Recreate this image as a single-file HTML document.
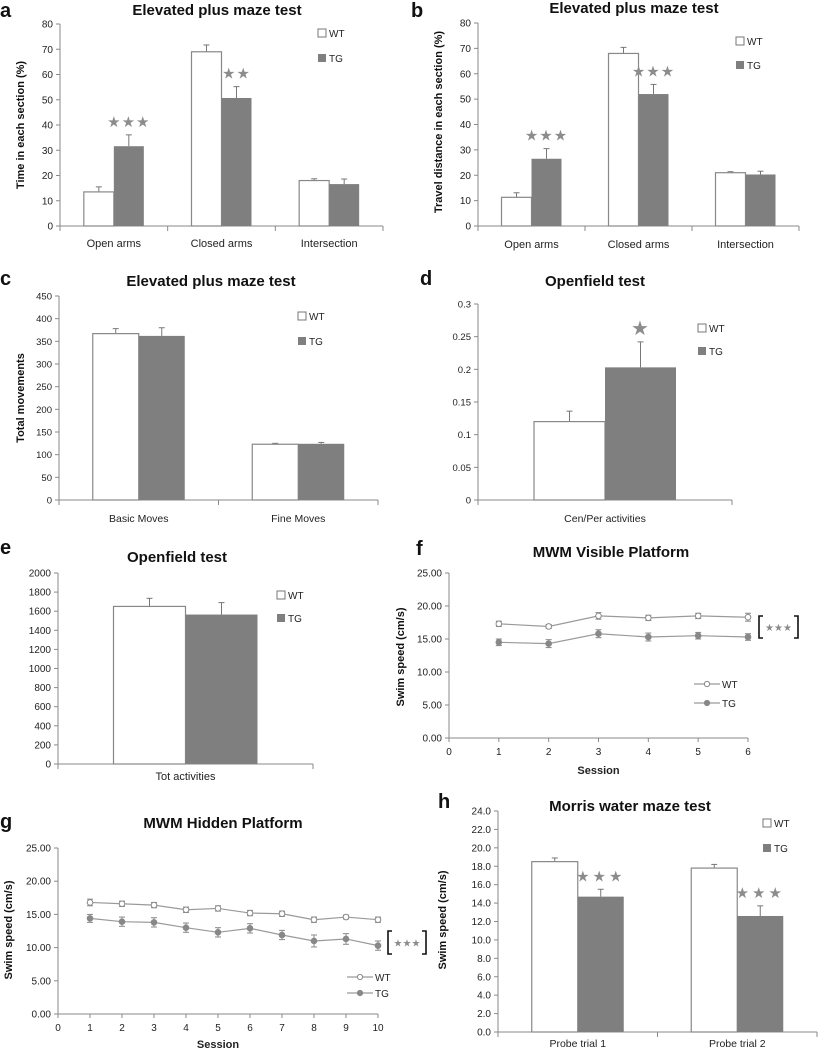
<!DOCTYPE html>
<html><head><meta charset="utf-8">
<style>
html,body{margin:0;padding:0;background:#fff;}
svg{display:block;font-family:"Liberation Sans",sans-serif;}
</style></head>
<body>
<svg id="fig" width="822" height="1049" viewBox="0 0 822 1049" xmlns="http://www.w3.org/2000/svg"></svg>
<script>
// ---- data ----
const abCats = ["Open arms","Closed arms","Intersection"];
const aWT = [13.5,69,18];
const aWTErr = [2,2.7,0.7];
const aTG = [31.6,50.7,16.6];
const aTGErr = [4.5,4.5,2];
const aStars = ["★★★","★★",""];
const abTicks = [0,10,20,30,40,50,60,70,80];

const bWT = [11.3,68,21];
const bWTErr = [1.8,2.4,0.4];
const bTG = [26.5,52,20.3];
const bTGErr = [4,3.8,1.3];
const bStars = ["★★★","★★★",""];

const cCats = ["Basic Moves","Fine Moves"];
const cWT = [367,123];
const cWTErr = [11,2];
const cTG = [362,124];
const cTGErr = [18,3];
const cTicks = [0,50,100,150,200,250,300,350,400,450];

const dCats = ["Cen/Per activities"];
const dWT = [0.12];
const dWTErr = [0.016];
const dTG = [0.203];
const dTGErr = [0.039];
const dTicks = [0,0.05,0.1,0.15,0.2,0.25,0.3];

const eCats = ["Tot activities"];
const eWT = [1650];
const eWTErr = [85];
const eTG = [1565];
const eTGErr = [125];
const eTicks = [0,200,400,600,800,1000,1200,1400,1600,1800,2000];

const fSessions = [1,2,3,4,5,6];
const fWT = [17.3,16.9,18.5,18.2,18.5,18.3];
const fWTErr = [0.4,0.3,0.5,0.4,0.4,0.6];
const fTG = [14.5,14.3,15.8,15.3,15.5,15.3];
const fTGErr = [0.5,0.6,0.6,0.6,0.5,0.5];
const swimTicks = [0,5,10,15,20,25];

const gSessions = [1,2,3,4,5,6,7,8,9,10];
const gWT = [16.8,16.6,16.4,15.7,15.9,15.2,15.1,14.2,14.6,14.2];
const gWTErr = [0.5,0.4,0.4,0.4,0.4,0.4,0.4,0.4,0.3,0.4];
const gTG = [14.4,13.9,13.8,13.0,12.3,12.9,11.9,11.0,11.3,10.3];
const gTGErr = [0.6,0.7,0.7,0.7,0.7,0.7,0.7,0.9,0.8,0.7];

const hCats = ["Probe trial 1","Probe trial 2"];
const hWT = [18.5,17.8];
const hWTErr = [0.4,0.4];
const hTG = [14.7,12.6];
const hTGErr = [0.8,1.1];
const hStars = ["★★★","★★★"];
const hTicks = [0,2,4,6,8,10,12,14,16,18,20,22,24];

// ---- helpers ----
const NS = "http://www.w3.org/2000/svg";
const svg = document.getElementById("fig");
function mk(tag, attrs, parent){
  const e = document.createElementNS(NS, tag);
  for (const k in attrs) e.setAttribute(k, attrs[k]);
  (parent||svg).appendChild(e);
  return e;
}
function txt(s, attrs, parent){ const t = mk("text", attrs, parent); t.textContent = s; return t; }
const AX = "#8a8a8a", TGF = "#7f7f7f", STAR = "#8c8c8c";

function panelText(p, g){
  const l = txt(p.letter, {x:p.lx, y:p.ly, "font-size":20, "font-weight":"bold", fill:"#111"}, g);
  
  
  const t = txt(p.title, {x:p.tx, y:p.ty, "font-size":p.tfs||15, "font-weight":"bold", "text-anchor":"middle", fill:"#111"}, g);
  
  
  if (p.ytitle){
    const yt = txt(p.ytitle, {x:0, y:0, "font-size":p.yfs||11, "font-weight":"bold", "text-anchor":"middle", fill:"#111",
      transform:`translate(${p.ytx},${p.tyc}) rotate(-90)`}, g);
    
    
  }
}
function yAxis(p, g, ticks, fmt){
  const ys = v => p.y0 - (v - 0) / p.max * (p.y0 - p.y1);
  const ax = mk("line", {x1:p.x0, y1:p.y1, x2:p.x0, y2:p.y0, stroke:AX, "stroke-width":1}, g);
  
  
  ticks.forEach(v=>{
    const y = ys(v);
    mk("line", {x1:p.x0-4, y1:y, x2:p.x0, y2:y, stroke:AX}, g);
    const t = txt(fmt(v), {x:p.x0-7, y:y+3.5, "font-size":p.tkfs||10, "text-anchor":"end", fill:"#222"}, g);
    
    
  });
  return ys;
}
function legendBars(p, g){
  const w = mk("rect", {x:p.legX, y:p.legY-8, width:8, height:8, fill:"#fff", stroke:"#777"}, g);
  
  
  const wt = txt("WT", {x:p.legX+11, y:p.legY, "font-size":10, fill:"#222"}, g);
  
  
  const t = mk("rect", {x:p.legX, y:p.legY+p.legGap-8, width:8, height:8, fill:TGF}, g);
  
  
  const tg = txt("TG", {x:p.legX+11, y:p.legY+p.legGap, "font-size":10, fill:"#222"}, g);
  
  
}
function errBar(g, x, yTop, yBase, col){
  mk("line", {x1:x, y1:yBase, x2:x, y2:yTop, stroke:col||"#777"}, g);
  mk("line", {x1:x-3, y1:yTop, x2:x+3, y2:yTop, stroke:col||"#777"}, g);
}
function barChart(p, cats, wt, wtE, tg, tgE, ticks, fmt, stars){
  const g = mk("g", {});
  
  
  panelText(p, g);
  const ys = yAxis(p, g, ticks, fmt);
  const xa = mk("line", {x1:p.x0, y1:p.y0, x2:p.x1, y2:p.y0, stroke:AX}, g);
  
  
  const gw = (p.x1 - p.x0) / cats.length;
  for (let i=0;i<=cats.length;i++){
    const x = p.x0 + i*gw;
    mk("line", {x1:x, y1:p.y0, x2:x, y2:p.y0+5, stroke:AX}, g);
  }
  cats.forEach((c,i)=>{
    const cx = p.x0 + (i+0.5)*gw;
    const bw = p.bw;
    errBar(g, cx - bw/2, ys(wt[i]+wtE[i]), ys(wt[i]));
    errBar(g, cx + bw/2, ys(tg[i]+tgE[i]), ys(tg[i]));
    const b1 = mk("rect", {x:cx-bw, y:ys(wt[i]), width:bw, height:p.y0-ys(wt[i]), fill:"#fff", stroke:"#888", "stroke-width":1.2}, g);
    
    
    const b2 = mk("rect", {x:cx, y:ys(tg[i]), width:bw, height:p.y0-ys(tg[i]), fill:TGF}, g);
    
    
    const cl = txt(c, {x:cx, y:p.catY, "font-size":p.cfs||11, "text-anchor":"middle", fill:"#222"}, g);
    
    
    if (stars && stars[i]){
      const s = txt(stars[i], {x:cx + bw/2, y:ys(tg[i]+tgE[i]) - (p.starOff||8), "font-size":p.sfs||15, "text-anchor":"middle", fill:STAR, "letter-spacing":p.sls||1}, g);
      
      
    }
  });
  legendBars(p, g);
}
function lineChart(p, sessions, wt, wtE, tg, tgE, ticks){
  const g = mk("g", {});
  
  
  panelText(p, g);
  const ys = yAxis(p, g, ticks, v=>v.toFixed(2));
  const n = sessions.length;
  const xs = s => p.x0 + s/n*(p.x1-p.x0);
  const xa = mk("line", {x1:p.x0, y1:p.y0, x2:p.x1, y2:p.y0, stroke:AX}, g);
  
  
  for (let s=0;s<=n;s++){
    mk("line", {x1:xs(s), y1:p.y0, x2:xs(s), y2:p.y0+4, stroke:AX}, g);
    const t = txt(String(s), {x:xs(s), y:p.y0+17, "font-size":10, "text-anchor":"middle", fill:"#222"}, g);
    
    
  }
  const xt = txt("Session", {x:(p.x0+p.x1)/2, y:p.sesY, "font-size":11, "font-weight":"bold", "text-anchor":"middle", fill:"#222"}, g);
  
  
  [[wt,wtE,false,'wt'],[tg,tgE,true,'tg']].forEach(([vals,errs,filled,nm])=>{
    const pts = vals.map((v,i)=>xs(sessions[i])+","+ys(v)).join(" ");
    const pl = mk("polyline", {points:pts, fill:"none", stroke:"#9a9a9a", "stroke-width":1.2}, g);
    
    
    vals.forEach((v,i)=>{
      const x = xs(sessions[i]);
      mk("line", {x1:x, y1:ys(v-errs[i]), x2:x, y2:ys(v+errs[i]), stroke:"#888"}, g);
      mk("line", {x1:x-3, y1:ys(v-errs[i]), x2:x+3, y2:ys(v-errs[i]), stroke:"#888"}, g);
      mk("line", {x1:x-3, y1:ys(v+errs[i]), x2:x+3, y2:ys(v+errs[i]), stroke:"#888"}, g);
      const c = mk("circle", {cx:x, cy:ys(v), r:2.8, fill:filled?"#888":"#fff", stroke:"#888"}, g);
      
      
    });
  });
  const b = p.br;
  const bp = mk("path", {d:`M${b.x0+4},${b.y0} H${b.x0} V${b.y1} H${b.x0+4} M${b.x1-4},${b.y0} H${b.x1} V${b.y1} H${b.x1-4}`, fill:"none", stroke:"#111", "stroke-width":1.6}, g);
  
  
  const st = txt("★★★", {x:(b.x0+b.x1)/2, y:(b.y0+b.y1)/2+4, "font-size":10, "text-anchor":"middle", fill:STAR}, g);
  
  
  const L = p.leg;
  [["WT",false,L.y],["TG",true,L.y2]].forEach(([lab,filled,y])=>{
    mk("line", {x1:L.x, y1:y, x2:L.x+26, y2:y, stroke:"#9a9a9a", "stroke-width":1.2}, g);
    mk("circle", {cx:L.x+13, cy:y, r:2.6, fill:filled?"#888":"#fff", stroke:"#888"}, g);
    const t = txt(lab, {x:L.x+28, y:y+4, "font-size":10, fill:"#222"}, g);
    
    
  });
}

// ---- panels ----
barChart({letter:"a", lx:0, ly:17, title:"Elevated plus maze test", tx:217, ty:15,
  ytitle:"Time in each section (%)", ytx:24, tyc:125, x0:60, x1:383, y0:226, y1:24, max:80,
  bw:30, catY:247, legX:318, legY:37, legGap:25}, abCats, aWT, aWTErr, aTG, aTGErr, abTicks, v=>String(v), aStars);

barChart({letter:"b", lx:411, ly:17, title:"Elevated plus maze test", tx:634, ty:13,
  ytitle:"Travel distance in each section (%)", ytx:442, tyc:122, x0:478, x1:799, y0:226, y1:23, max:80,
  bw:30, catY:248, legX:736, legY:45, legGap:24}, abCats, bWT, bWTErr, bTG, bTGErr, abTicks, v=>String(v), bStars);

barChart({letter:"c", lx:0, ly:285, title:"Elevated plus maze test", tx:211, ty:286,
  ytitle:"Total movements", ytx:24, tyc:398, x0:59, x1:378, y0:500, y1:296, max:450, tkfs:9.5,
  bw:46, catY:522, cfs:10.5, legX:298, legY:320, legGap:25}, cCats, cWT, cWTErr, cTG, cTGErr, cTicks, v=>String(v), null);

barChart({letter:"d", lx:420, ly:285, title:"Openfield test", tx:595, ty:286,
  x0:478, x1:732, y0:500, y1:304, max:0.3, tkfs:9.5,
  bw:71, catY:522, cfs:10.5, legX:698, legY:332, legGap:23, sfs:20, starOff:7}, dCats, dWT, dWTErr, dTG, dTGErr, dTicks, v=>String(+v.toFixed(2)), ["★"]);

barChart({letter:"e", lx:0, ly:554, title:"Openfield test", tx:177, ty:562,
  x0:58, x1:313, y0:764, y1:573, max:2000,
  bw:72, catY:780, legX:277, legY:599, legGap:23}, eCats, eWT, eWTErr, eTG, eTGErr, eTicks, v=>String(v), null);

lineChart({letter:"f", lx:416, ly:555, title:"MWM Visible  Platform", tx:611, ty:557,
  ytitle:"Swim speed (cm/s)", ytx:404, tyc:657, x0:449, x1:748, y0:738, y1:573, max:25, sesY:774,
  br:{x0:759, x1:798, y0:616, y1:638}, leg:{x:694, y:684, y2:703}}, fSessions, fWT, fWTErr, fTG, fTGErr, swimTicks);

lineChart({letter:"g", lx:0, ly:828, title:"MWM Hidden  Platform", tx:223, ty:828,
  ytitle:"Swim speed (cm/s)", ytx:12, tyc:930, x0:58, x1:378, y0:1014, y1:848, max:25, sesY:1048,
  br:{x0:388, x1:426, y0:931, y1:954}, leg:{x:347, y:977, y2:993}}, gSessions, gWT, gWTErr, gTG, gTGErr, swimTicks);

barChart({letter:"h", lx:438, ly:808, title:"Morris water maze test", tx:630, ty:811,
  ytitle:"Swim speed (cm/s)", ytx:446, tyc:920, x0:498, x1:817, y0:1032, y1:811, max:24,
  bw:46, catY:1047, cfs:10.5, legX:763, legY:827, legGap:25, sls:3}, hCats, hWT, hWTErr, hTG, hTGErr, hTicks, v=>v.toFixed(1), hStars);
</script>
</body></html>
